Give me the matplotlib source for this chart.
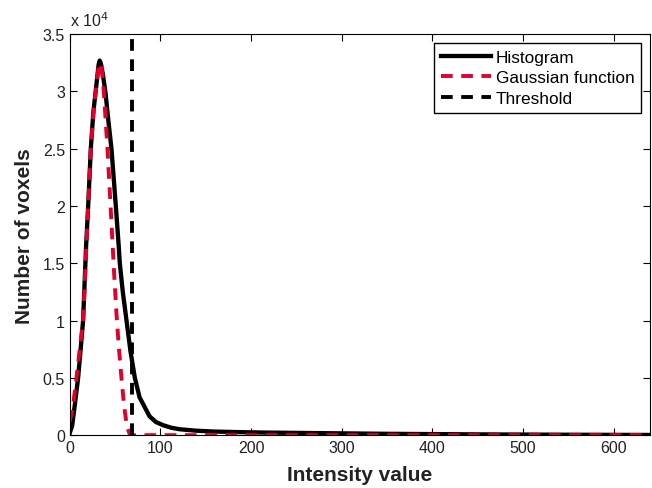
import matplotlib
matplotlib.use("Agg")
import matplotlib.pyplot as plt
from matplotlib.ticker import FuncFormatter

plt.rcParams["font.family"] = ["Liberation Sans", "DejaVu Sans"]

# histogram curve (intensity, voxel count)
hist_x = [0, 2.6, 5.5, 9.2, 12, 14.7, 18, 20.3, 23.2, 26, 28.4, 30.5, 31.8, 33, 34.3, 36.5, 39.4, 42.5,
          46, 50.8, 54, 55.2, 58.5, 62.6, 67, 71.8, 77, 83, 88, 95, 103, 112, 121, 138, 158,
          185, 214, 250, 287, 350, 450, 550, 640]
hist_y = [200, 800, 2600, 5000, 7500, 10000, 16500, 20000, 25000, 28200, 29900, 31400, 32350, 32700,
          32450, 31500, 29900, 27500, 25000, 20000, 16500, 15000, 12500, 10000, 7300, 5000, 3300,
          2400, 1650, 1150, 870, 650, 520, 400, 320, 270, 230, 200, 170, 120, 70, 40, 20]

# fitted gaussian
gauss_x = [0, 3.5, 7.4, 11, 14.7, 17.5, 20.3, 23.2, 26, 28.4, 30.5, 32, 33, 34.5, 35.8, 37.6, 41.6,
           45, 47, 49, 51.6, 54, 57, 60, 63, 66, 70, 640]
gauss_y = [1200, 2500, 5000, 7500, 10000, 15000, 20000, 25000, 28000, 29900, 31300, 32200, 32500,
           32200, 31600, 29900, 25000, 20000, 17000, 14000, 10500, 7800, 5000, 2500, 800, 100, 0, 0]

threshold = 69

fig = plt.figure(figsize=(6.52, 4.89), dpi=100)
ax = fig.add_axes([0.107, 0.108, 0.890, 0.820])

ax.plot(hist_x, hist_y, color="black", lw=3.1, label="Histogram")
ax.plot(gauss_x, gauss_y, color="#e0002a", lw=2.8, ls=(0, (3, 2.2)), label="Gaussian function")
ax.axvline(threshold, color="black", lw=2.8, ls=(0, (3, 2.2)), label="Threshold")

ax.set_xlim(0, 640)
ax.set_ylim(0, 35000)
ax.set_xticks(range(0, 601, 100))
ax.set_yticks([i * 5000 for i in range(8)])
ax.yaxis.set_major_formatter(FuncFormatter(lambda v, p: "%g" % (v / 1e4)))
ax.tick_params(direction="in", top=True, right=True, labelsize=11.5, length=5, width=0.8,
               labelcolor="#222222")
ax.text(0, 1.012, "x 10$^4$", transform=ax.transAxes, fontsize=11.5, ha="left", va="bottom",
        color="#222222")

ax.set_xlabel("Intensity value", fontsize=15, fontweight="bold", labelpad=7, color="#222222")
ax.set_ylabel("Number of voxels", fontsize=15, fontweight="bold", labelpad=6, color="#222222")

leg = ax.legend(loc="upper right", fontsize=12.4, fancybox=False, edgecolor="black",
                framealpha=1, handlelength=2.9, borderaxespad=0.5, labelspacing=0.32,
                borderpad=0.4, handletextpad=0.3)
leg.get_frame().set_linewidth(1.0)

fig.savefig("out.png", dpi=100)
